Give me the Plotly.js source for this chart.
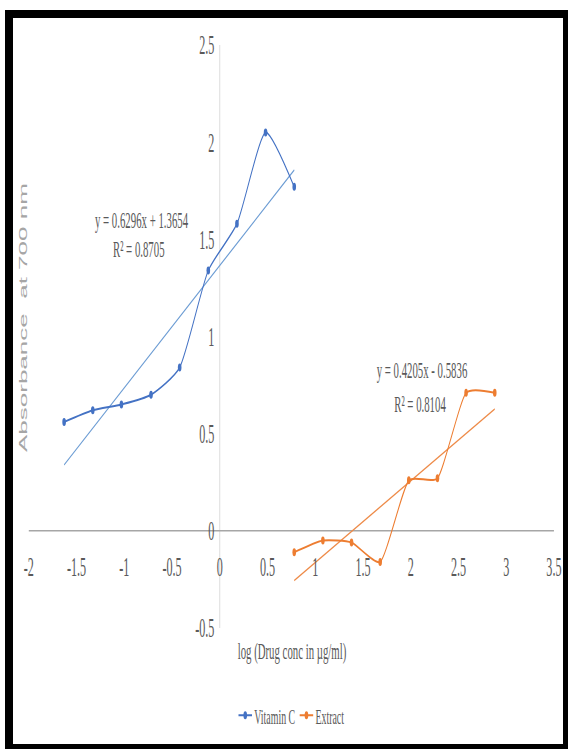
<!DOCTYPE html>
<html>
<head>
<meta charset="utf-8">
<script src="https://cdn.plot.ly/plotly-3.0.1.min.js"></script>
<style>
  html, body { margin: 0; padding: 0; background: #fff; }
  body { width: 568px; height: 749px; overflow: hidden; position: relative; }
  #chart { position: absolute; left: 0; top: 0; width: 1262px; height: 749px;
           transform: scaleX(0.45); transform-origin: 0 0; }
  #frame { position: absolute; left: 5px; top: 10px; width: 566px; height: 742px;
           box-sizing: border-box; border: 8px solid #000; pointer-events: none; }
</style>
</head>
<body>
<div id="chart"></div>
<div id="frame"></div>
<script>
// ---- data ----
const vitCX = [-1.63, -1.33, -1.03, -0.72, -0.42, -0.12, 0.18, 0.48, 0.78];
const vitCY = [0.56, 0.62, 0.65, 0.70, 0.84, 1.34, 1.58, 2.05, 1.77];
const extX  = [0.78, 1.08, 1.38, 1.68, 1.98, 2.28, 2.58, 2.88];
const extY  = [-0.11, -0.05, -0.06, -0.16, 0.26, 0.27, 0.71, 0.71];

const seriesNames = ["Vitamin C", "Extract"];
const vitCSlope = 0.6296, vitCIntercept = 1.3654;
const extSlope = 0.4205, extIntercept = -0.5836;
const eqTexts = ["y = 0.6296x + 1.3654", "R² = 0.8705", "y = 0.4205x - 0.5836", "R² = 0.8104"];

const xTickVals = [-2, -1.5, -1, -0.5, 0, 0.5, 1, 1.5, 2, 2.5, 3, 3.5];
const xTickText = ["-2", "-1.5", "-1", "-0.5", "0", "0.5", "1", "1.5", "2", "2.5", "3", "3.5"];
const yTickVals = [-0.5, 0, 0.5, 1, 1.5, 2, 2.5];
const yTickText = ["-0.5", "0", "0.5", "1", "1.5", "2", "2.5"];

const xTitle = "log (Drug conc in µg/ml)";
const yTitle = "Absorbance\u00a0\u00a0at 700 nm";

// ---- styles ----
const blue = "#4472C4", blueTrend = "#6A9BD3";
const orange = "#ED7D31", orangeTrend = "#EE8A47";
const serif = "Liberation Serif, Times New Roman, serif";
const txt = "#595959";

function trend(xs, m, b) {
  const x0 = Math.min(...xs), x1 = Math.max(...xs);
  return { x: [x0, x1], y: [m * x0 + b, m * x1 + b] };
}
const tV = trend(vitCX, vitCSlope, vitCIntercept);
const tE = trend(extX, extSlope, extIntercept);

const traces = [
  { x: tV.x, y: tV.y, mode: "lines", line: { color: blueTrend, width: 1.6 },
    showlegend: false, hoverinfo: "skip" },
  { x: tE.x, y: tE.y, mode: "lines", line: { color: orangeTrend, width: 1.6 },
    showlegend: false, hoverinfo: "skip" },
  { x: vitCX, y: vitCY, name: seriesNames[0], mode: "lines+markers",
    line: { color: blue, width: 2, shape: "spline", smoothing: 0.6 },
    marker: { color: blue, size: 8, symbol: "circle" } },
  { x: extX, y: extY, name: seriesNames[1], mode: "lines+markers",
    line: { color: orange, width: 2, shape: "spline", smoothing: 0.55 },
    marker: { color: orange, size: 8, symbol: "circle" } }
];

const layout = {
  width: 1262, height: 749,
  margin: { l: 64, r: 31, t: 45, b: 110, pad: 0 },
  paper_bgcolor: "#ffffff", plot_bgcolor: "#ffffff",
  showlegend: true,
  legend: { orientation: "h", x: 0.5, xanchor: "center", y: -0.15, yanchor: "middle",
            font: { family: serif, size: 22, color: txt }, itemwidth: 30, tracegroupgap: 0 },
  xaxis: {
    range: [-2, 3.5], anchor: "free", position: 1 / 6,
    showgrid: false, showline: false, ticks: "",
    zeroline: true, zerolinecolor: "#d9d9d9", zerolinewidth: 2,
    tickmode: "array", tickvals: xTickVals, ticktext: xTickText,
    tickfont: { family: serif, size: 27, color: txt }, ticklabelstandoff: 17,
    fixedrange: true
  },
  yaxis: {
    range: [-0.5, 2.5], anchor: "free", position: 2 / 5.5,
    showgrid: false, showline: false, ticks: "",
    zeroline: true, zerolinecolor: "#a6a6a6", zerolinewidth: 1.5,
    tickmode: "array", tickvals: yTickVals, ticktext: yTickText,
    tickfont: { family: serif, size: 27, color: txt }, ticklabelstandoff: 12,
    fixedrange: true
  },
  annotations: [
    { text: eqTexts[0], x: -0.818, y: 1.60, xref: "x", yref: "y", showarrow: false,
      font: { family: serif, size: 24, color: txt } },
    { text: eqTexts[1], x: -0.85, y: 1.45, xref: "x", yref: "y", showarrow: false,
      font: { family: serif, size: 24, color: txt } },
    { text: eqTexts[2], x: 2.117, y: 0.828, xref: "x", yref: "y", showarrow: false,
      font: { family: serif, size: 24, color: txt } },
    { text: eqTexts[3], x: 2.096, y: 0.655, xref: "x", yref: "y", showarrow: false,
      font: { family: serif, size: 24, color: txt } },
    { text: xTitle, x: 0.501, y: -0.04, xref: "paper", yref: "paper", showarrow: false,
      xanchor: "center", yanchor: "middle",
      font: { family: serif, size: 24, color: txt } },
    { text: yTitle, x: -0.011, y: 0.532, xref: "paper", yref: "paper", showarrow: false,
      xanchor: "center", yanchor: "middle", textangle: -90,
      font: { family: "Liberation Sans, Arial, sans-serif", size: 26, color: "#a6a6a6" } }
  ]
};

Plotly.newPlot("chart", traces, layout, { displayModeBar: false, staticPlot: true });
</script>
</body>
</html>
